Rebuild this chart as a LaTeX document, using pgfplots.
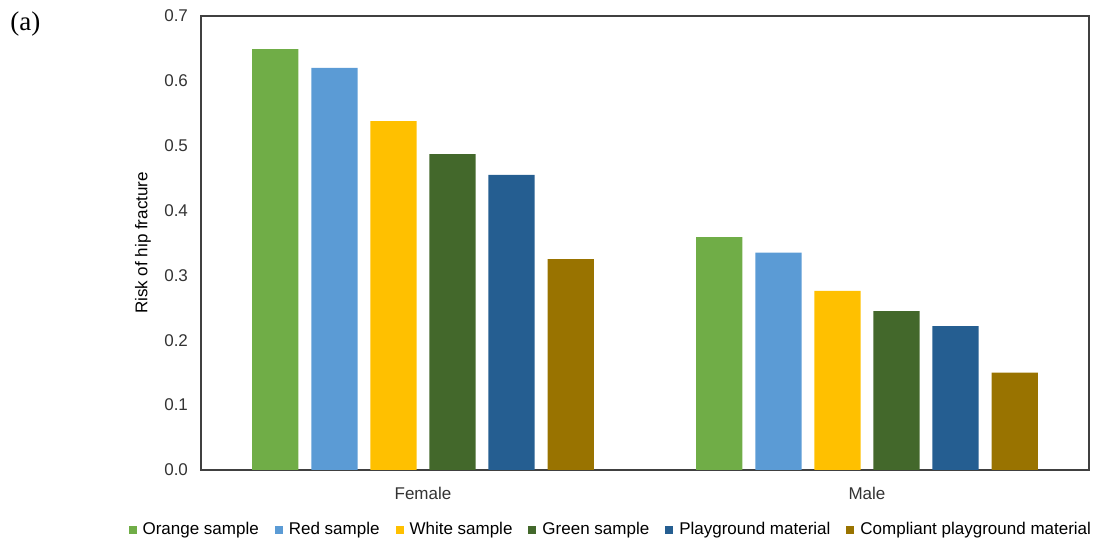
\documentclass[border=0pt]{standalone}
\usepackage{pgfplots}
\pgfplotsset{compat=1.18}
\usepackage{fontspec}
\setmainfont{Liberation Sans}
\newfontfamily\seriffont{Liberation Serif}
\definecolor{cOrange}{HTML}{70AD47}
\definecolor{cRed}{HTML}{5B9BD5}
\definecolor{cWhite}{HTML}{FFC000}
\definecolor{cGreen}{HTML}{43682B}
\definecolor{cPlay}{HTML}{255E91}
\definecolor{cComp}{HTML}{997300}
\definecolor{axgray}{HTML}{404040}
\begin{document}
\begin{tikzpicture}
\useasboundingbox (-100.5pt,-36pt) rectangle (449.5pt,235pt);
\begin{axis}[
  at={(0,0)}, anchor=south west,
  scale only axis, width=444pt, height=227pt,
  xmin=-0.5, xmax=1.5, ymin=0, ymax=0.7,
  ybar, bar width=0.104,
  xtick={0,1}, xticklabels={Female,Male},
  ytick={0,0.1,...,0.7},
  major tick length=0pt,
  axis line style={axgray, line width=0.6pt},
  /pgf/number format/assume math mode=true,
  yticklabel={\pgfmathprintnumber[fixed,precision=1,zerofill]{\tick}},
  tick label style={font=\fontsize{8.5}{10}\selectfont, text=black!80},
  yticklabel style={xshift=-3pt},
  xticklabel style={yshift=-5pt},
  ylabel={Risk of hip fracture},
  ylabel style={font=\fontsize{8.5}{10}\selectfont, at={(axis description cs:0,0.5)}, anchor=center, yshift=29pt},
  legend style={draw=none, fill=none, legend columns=6, font=\fontsize{8.5}{10}\selectfont,
    at={(axis description cs:-0.082,0)}, anchor=west, yshift=-30pt,
    /tikz/every even column/.append style={column sep=6pt},
    inner sep=0pt},
  legend image code/.code={\fill[#1] (0pt,-2pt) rectangle (4pt,2pt); \path (5pt,0pt);},
  every axis plot/.append style={draw=none},
]
\addplot[fill=cOrange, bar shift=-0.3326] coordinates {(0,0.649) (1,0.359)};
\addplot[fill=cRed, bar shift=-0.1995] coordinates {(0,0.620) (1,0.335)};
\addplot[fill=cWhite, bar shift=-0.0665] coordinates {(0,0.538) (1,0.276)};
\addplot[fill=cGreen, bar shift=0.0665] coordinates {(0,0.487) (1,0.245)};
\addplot[fill=cPlay, bar shift=0.1995] coordinates {(0,0.455) (1,0.222)};
\addplot[fill=cComp, bar shift=0.3326] coordinates {(0,0.325) (1,0.150)};
\legend{Orange sample, Red sample, White sample, Green sample, Playground material, Compliant playground material}
\end{axis}
\node[anchor=west, font=\seriffont\fontsize{13.5}{15}\selectfont, inner sep=0pt] at (-95.5pt,223pt) {(a)};
\end{tikzpicture}
\end{document}
